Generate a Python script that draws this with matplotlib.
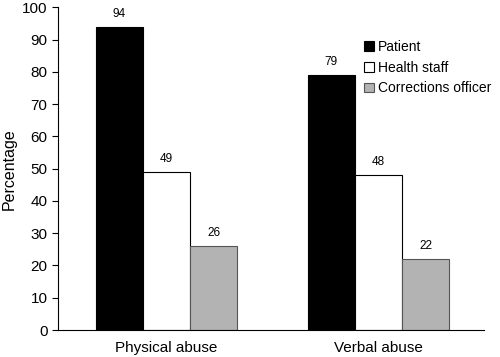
import matplotlib
matplotlib.use("Agg")
import matplotlib.pyplot as plt
import numpy as np

plt.rcParams['font.family'] = ['Liberation Sans', 'DejaVu Sans']

categories = ["Physical abuse", "Verbal abuse"]
series = ["Patient", "Health staff", "Corrections officer"]
patient = [94, 79]
health_staff = [49, 48]
corrections = [26, 22]

values = [patient, health_staff, corrections]
colors = ["#000000", "#ffffff", "#b3b3b3"]
edges = ["#000000", "#000000", "#555555"]

fig = plt.figure(figsize=(5.0, 3.57), dpi=100)
ax = fig.add_axes([0.116, 0.0756, 0.852, 0.904])

x = np.arange(len(categories))
w = 0.222
for i, (vals, c, e, name) in enumerate(zip(values, colors, edges, series)):
    pos = x + (i - 1) * w
    ax.bar(pos, vals, w, color=c, edgecolor=e, linewidth=0.8, label=name)
    for p, v in zip(pos, vals):
        ax.text(p, v + 2.2, str(v), ha='center', va='bottom', fontsize=8.5)

ax.set_xlim(-0.512, 1.498)
ax.set_ylim(0, 100)
ax.set_yticks(range(0, 101, 10))
ax.set_xticks(x)
ax.set_xticklabels(categories, fontsize=11)
ax.tick_params(axis='x', length=0, pad=8)
ax.tick_params(axis='y', labelsize=11, direction='out', length=4)
ax.set_ylabel("Percentage", fontsize=11.5)
for s in ['top', 'right']:
    ax.spines[s].set_visible(False)

ax.legend(loc='upper left', bbox_to_anchor=(0.718, 0.90), frameon=False, fontsize=10,
          handlelength=0.7, handleheight=0.7, handletextpad=0.3, labelspacing=0.5,
          borderaxespad=0, borderpad=0)

fig.savefig("out.png", dpi=100)
